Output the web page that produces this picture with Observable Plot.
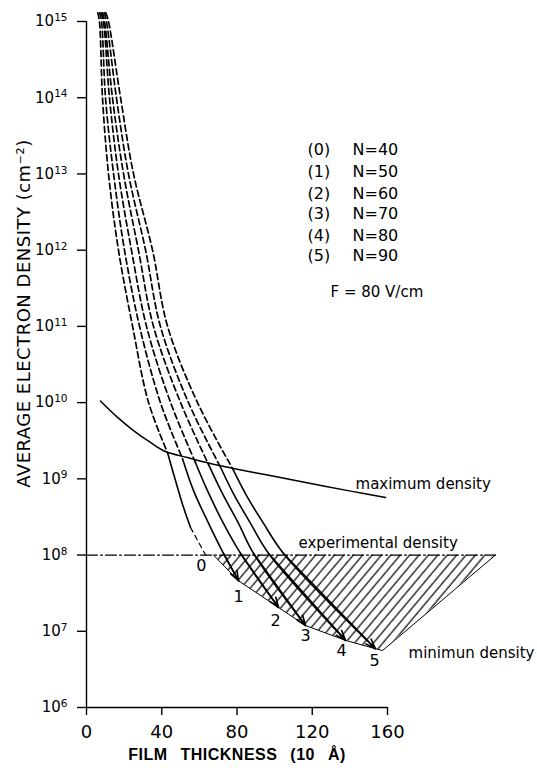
<!DOCTYPE html>
<html><head><meta charset="utf-8">
<script src="https://cdn.jsdelivr.net/npm/d3@7"></script>
<script src="https://cdn.jsdelivr.net/npm/@observablehq/plot@0.6"></script>
<style>
html,body{margin:0;padding:0;background:#fff;}
#chart svg{display:block;}
</style></head><body><div id="chart"></div>
<script>
// ---- data ----
const curveIds = [0, 1, 2, 3, 4, 5];
const legendTags = ["(0)", "(1)", "(2)", "(3)", "(4)", "(5)"];
const legendN = ["N=40", "N=50", "N=60", "N=70", "N=80", "N=90"];
const legendY = [2.04e13, 1.07e13, 5.5e12, 3.0e12, 1.55e12, 8.3e11];

// dashed (upper) parts of the curves
const dashY = [1.3e15, 1e15, 1e14, 1e13, 1e12, 1e11, 1e10];
const dashX0 = [6.0, 6.9, 8.5, 11.7, 17.0, 24.5, 33.0];
const dashX1 = [7.0, 8.0, 10.1, 14.4, 20.2, 28.2, 39.3];
const dashX2 = [7.8, 9.0, 12.2, 17.0, 23.9, 31.9, 44.7];
const dashX3 = [8.6, 9.6, 13.8, 19.7, 27.6, 35.6, 50.0];
const dashX4 = [9.5, 10.6, 15.9, 22.3, 31.4, 39.3, 54.2];
const dashX5 = [10.3, 11.7, 18.1, 25.0, 35.1, 43.1, 59.0];

// solid (lower) parts, starting at the maximum-density crossing
const solidX0 = [43.1, 47.3, 51.6, 55.3];
const solidY0 = [2.2e9, 9.5e8, 4.2e8, 2.3e8];
const tailX0 = [55.3, 63.3];
const tailY0 = [2.3e8, 1.0e8];
const solidX1 = [51.0, 56.9, 64.9, 72.8, 80.8];
const solidY1 = [1.85e9, 7.0e8, 2.6e8, 1.05e8, 4.6e7];
const solidX2 = [57.9, 64.3, 72.8, 81.9, 102.1];
const solidY2 = [1.64e9, 7.0e8, 2.6e8, 1.05e8, 2.05e7];
const solidX3 = [64.9, 72.3, 80.8, 88.8, 116.4];
const solidY3 = [1.54e9, 6.4e8, 2.6e8, 1.05e8, 1.19e7];
const solidX4 = [71.2, 78.1, 87.2, 96.8, 137.7];
const solidY4 = [1.43e9, 6.4e8, 2.6e8, 1.05e8, 7.6e6];
const solidX5 = [77.6, 85.6, 94.1, 104.7, 153.6];
const solidY5 = [1.37e9, 5.7e8, 2.6e8, 1.05e8, 5.9e6];

// maximum density curve
const maxX = [7.4, 16.5, 25.0, 34.0, 42.0, 53.7, 65.9, 78.1, 96.2, 113.8, 140.4, 159.0];
const maxY = [1.05e10, 6.4e9, 4.3e9, 3.0e9, 2.28e9, 1.9e9, 1.59e9, 1.37e9, 1.12e9, 9.2e8, 6.9e8, 5.7e8];

// experimental density
const expDensity = 1e8;
const expX = [0, 217.4];

// hatched region: lower boundary (minimum density) + right edge
const hatchX = [67.5, 80.8, 102.1, 116.4, 137.7, 153.6, 157.4, 217.4];
const hatchLow = [1e8, 4.6e7, 2.05e7, 1.19e7, 7.6e6, 5.9e6, 5.6e6, 1e8];

// curve number labels
const numLabelX = [61.1, 80.8, 100.5, 116.4, 135.6, 153.1];
const numLabelY = [7.2e7, 2.8e7, 1.38e7, 8.8e6, 5.6e6, 4.1e6];

// text annotations
const annText = ["maximum density", "experimental density", "minimun density", "F = 80 V/cm"];
const annX = [143, 112.7, 171.2, 129.7];
const annY = [8.4e8, 1.42e8, 5.1e6, 2.78e11];

// axes
const xTicks = [0, 40, 80, 120, 160];
const yTicks = [1e6, 1e7, 1e8, 1e9, 1e10, 1e11, 1e12, 1e13, 1e14, 1e15];
const xLabel = "FILM THICKNESS (10 Å)";
const yLabel = "AVERAGE ELECTRON DENSITY (cm⁻²)";

// ---- build tables ----
const dashXs = [dashX0, dashX1, dashX2, dashX3, dashX4, dashX5];
const solidXs = [solidX0, solidX1, solidX2, solidX3, solidX4, solidX5];
const solidYs = [solidY0, solidY1, solidY2, solidY3, solidY4, solidY5];

const dashData = [];
curveIds.forEach(id => {
  dashXs[id].forEach((x, i) => dashData.push({id, x, y: dashY[i]}));
  dashData.push({id, x: solidXs[id][0], y: solidYs[id][0]});
});
const solidData = [];
curveIds.forEach(id => solidXs[id].forEach((x, i) => solidData.push({id, x, y: solidYs[id][i]})));
const tailData = tailX0.map((x, i) => ({x, y: tailY0[i]}));
const arrowData = curveIds.filter(id => id > 0).map(id => {
  const xs = solidXs[id], ys = solidYs[id], n = xs.length;
  return {x1: xs[n - 2], y1: ys[n - 2], x2: xs[n - 1], y2: ys[n - 1]};
});
const maxData = maxX.map((x, i) => ({x, y: maxY[i]}));
const expData = expX.map(x => ({x, y: expDensity}));
const hatchData = hatchX.map((x, i) => ({x, lo: hatchLow[i], hi: expDensity}));
const numData = curveIds.map(id => ({t: String(id), x: numLabelX[id], y: numLabelY[id]}));
const annData = annText.map((t, i) => ({t, x: annX[i], y: annY[i]}));
const legendData = curveIds.map(id => ({tag: legendTags[id], n: legendN[id], y: legendY[id]}));

const supMap = {"0":"⁰","1":"¹","2":"²","3":"³","4":"⁴","5":"⁵","6":"⁶","7":"⁷","8":"⁸","9":"⁹"};
const revSup = Object.fromEntries(Object.entries(supMap).map(([k, v]) => [v, k]));
const supFmt = d => "10" + String(Math.round(Math.log10(d))).split("").map(c => supMap[c]).join("");

const font = "DejaVu Sans";

const chart = Plot.plot({
  width: 537,
  height: 770,
  marginLeft: 86,
  marginRight: 150,
  marginTop: 21,
  marginBottom: 63,
  x: {domain: [0, 160]},
  y: {type: "log", domain: [1e6, 1e15]},
  style: {fontFamily: font, color: "black", background: "white", overflow: "visible"},
  marks: [
    Plot.areaY(hatchData, {x: "x", y1: "lo", y2: "hi", fill: "url(#hatch)"}),
    Plot.line(hatchData, {x: "x", y: "lo", stroke: "black", strokeWidth: 1}),
    Plot.line(expData, {x: "x", y: "y", stroke: "black", strokeWidth: 1.3, strokeDasharray: "11,3,2,3"}),
    Plot.line(maxData, {x: "x", y: "y", curve: "catmull-rom", stroke: "black", strokeWidth: 1.5}),
    Plot.line(dashData, {x: "x", y: "y", z: "id", curve: "catmull-rom", stroke: "black", strokeWidth: 1.7, strokeDasharray: "6,3.5"}),
    Plot.line(solidData, {x: "x", y: "y", z: "id", curve: "catmull-rom", stroke: "black", strokeWidth: 1.6}),
    Plot.line(tailData, {x: "x", y: "y", stroke: "black", strokeWidth: 1.2, strokeDasharray: "5,4"}),
    Plot.arrow(arrowData, {x1: "x1", y1: "y1", x2: "x2", y2: "y2", stroke: "black", strokeWidth: 1.6, headLength: 10, headAngle: 40}),
    Plot.ruleX([0], {stroke: "black", strokeWidth: 1.4}),
    Plot.ruleY([1e6], {stroke: "black", strokeWidth: 1.4}),
    Plot.axisY(yTicks, {tickSize: 9, tickPadding: 10, tickFormat: supFmt, fontSize: 15, label: null, strokeWidth: 1.4}),
    Plot.axisX(xTicks, {tickSize: 8, tickPadding: 10, fontSize: 18, label: null, strokeWidth: 1.4}),
    Plot.text(numData, {x: "x", y: "y", text: "t", fontSize: 16}),
    Plot.text(annData, {x: "x", y: "y", text: "t", textAnchor: "start", fontSize: 15}),
    Plot.text(legendData, {x: 117.5, y: "y", text: "tag", textAnchor: "start", fontSize: 16}),
    Plot.text(legendData, {x: 141.4, y: "y", text: "n", textAnchor: "start", fontSize: 16}),
    Plot.text([xLabel], {frameAnchor: "bottom", dy: 52, textAnchor: "middle", fontSize: 16, fontWeight: "bold", fontFamily: "Liberation Sans"}),
    Plot.text([yLabel], {frameAnchor: "left", dx: -62, dy: -51, textAnchor: "middle", rotate: -90, fontSize: 18})
  ]
});

const svgSel = d3.select(chart);

// hatch pattern definition
const defs = svgSel.insert("defs", ":first-child");
const pat = defs.append("pattern")
  .attr("id", "hatch")
  .attr("patternUnits", "userSpaceOnUse")
  .attr("width", 7.2)
  .attr("height", 7.2)
  .attr("patternTransform", "rotate(40)");
pat.append("line").attr("x1", 1).attr("y1", 0).attr("x2", 1).attr("y2", 7.2)
  .attr("stroke", "black").attr("stroke-width", 1.2);

// superscript exponents on the y tick labels; spacing on the axis titles
const supRe = /^10[⁰¹²³⁴⁵⁶⁷⁸⁹]+$/;
svgSel.selectAll("text").each(function () {
  const s = this.textContent;
  const t = d3.select(this);
  if (supRe.test(s)) {
    const exp = s.slice(2).split("").map(c => revSup[c] || c).join("");
    t.text("10");
    t.append("tspan").attr("dy", "-0.5em").attr("font-size", "0.7em").text(exp);
  } else if (s === yLabel) {
    t.attr("letter-spacing", 0.5);
  } else if (s === xLabel) {
    t.attr("letter-spacing", 0.5).attr("word-spacing", 8);
  }
});

document.getElementById("chart").appendChild(chart);
</script>
</body></html>
